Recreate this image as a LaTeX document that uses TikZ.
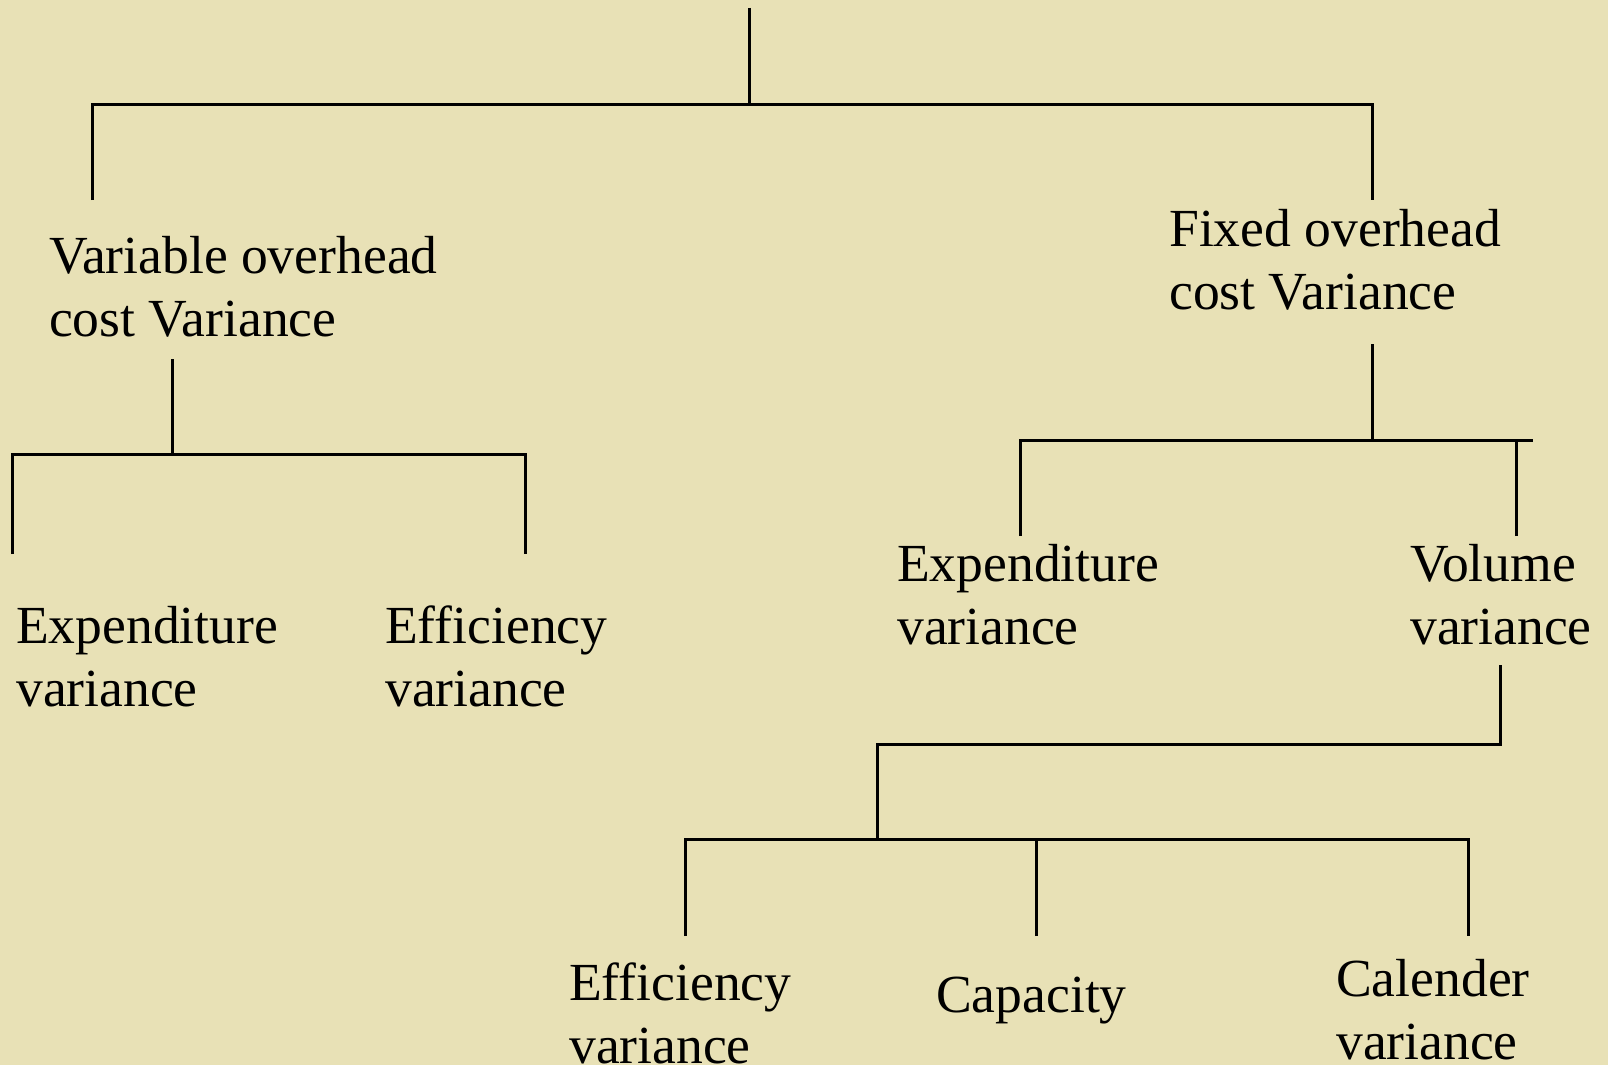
\documentclass[tikz,border=0pt]{standalone}
\usepackage{fontspec}
\setmainfont{Liberation Serif}
\usetikzlibrary{positioning,calc}
\definecolor{paper}{RGB}{232,225,182}

\begin{document}
\begin{tikzpicture}[
x=1pt,
y=-1pt,
label/.style={
  anchor=base west,
  align=left,
  inner sep=0pt,
  font=\fontsize{53.6}{63.6}\selectfont
  },
link/.style={
  draw,
  line width=3pt
  }
]
\fill[paper] (0,0) rectangle (1608,1065);
\useasboundingbox (0,0) rectangle (1608,1065);

% the labels (base = last line)
\node[label] (vocv) at (49,336.6) {Variable overhead\\cost Variance};
\node[label] (focv) at (1169,309.6) {Fixed overhead\\cost Variance};
\node[label] (vexp) at (16,706.6) {Expenditure\\variance};
\node[label] (veff) at (385,706.6) {Efficiency\\variance};
\node[label] (fexp) at (897,644.6) {Expenditure\\variance};
\node[label] (fvol) at (1410,644.6) {Volume\\variance};
\node[label] (feff) at (569,1063.6) {Efficiency\\variance};
\node[label] (fcap) at (936,1012) {Capacity};
\node[label] (fcal) at (1336,1059.6) {Calender\\variance};

% ends of the connectors
\coordinate (root) at (749,8);
\coordinate (j1) at (749,104);
\coordinate (vocv-in) at (92,200);
\coordinate (focv-in) at (1372,200);
\coordinate (vocv-out) at (172,359);
\coordinate (j2) at (172,454);
\coordinate (vexp-in) at (12,554);
\coordinate (veff-in) at (525,554);
\coordinate (focv-out) at (1372,344);
\coordinate (j3) at (1372,440);
\coordinate (j3e) at (1533,440);
\coordinate (fexp-in) at (1020,536);
\coordinate (fvol-in) at (1516,536);
\coordinate (fvol-out) at (1500,665);
\coordinate (j4) at (877,744);
\coordinate (j5) at (877,839);
\coordinate (feff-in) at (685,936);
\coordinate (fcap-in) at (1036,936);
\coordinate (fcal-in) at (1468,936);

% the tree
\draw[link] (root) -- (j1);
\draw[link] (vocv-in) |- (j1) -| (focv-in);
\draw[link] (vocv-out) -- (j2);
\draw[link] (vexp-in) |- (j2) -| (veff-in);
\draw[link] (focv-out) -- (j3);
\draw[link] (fexp-in) |- (j3e);
\draw[link] (fvol-in) -- (fvol-in |- j3);
\draw[link] (fvol-out) |- (j4) -- (j5);
\draw[link] (feff-in) |- (j5) -| (fcal-in);
\draw[link] (fcap-in) -- (fcap-in |- j5);

\end{tikzpicture}
\end{document}
